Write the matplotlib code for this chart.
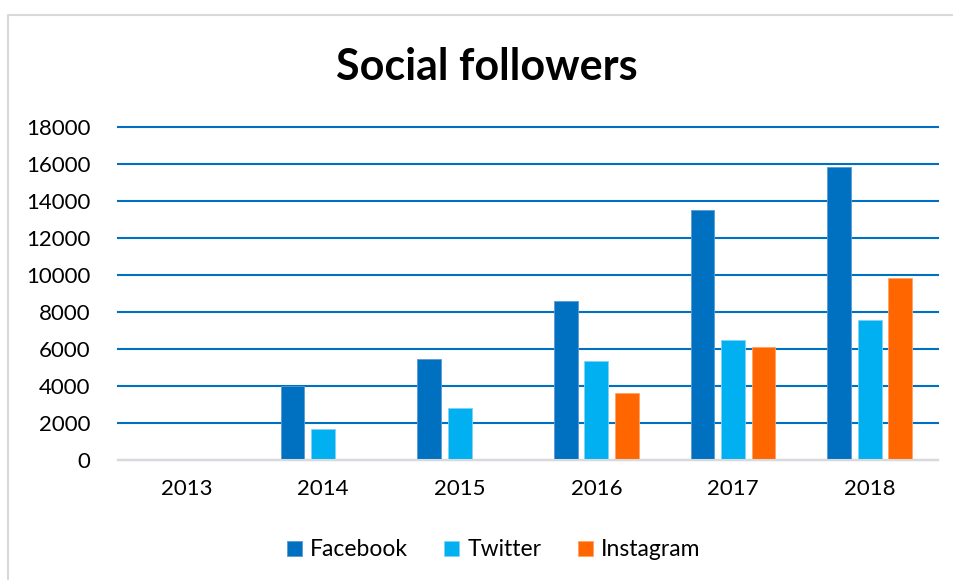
import numpy as np
import matplotlib.pyplot as plt
from matplotlib.lines import Line2D

plt.rcParams['font.family'] = ['Lato', 'DejaVu Sans']

# dati
years = ['2013', '2014', '2015', '2016', '2017', '2018']
facebook = [0, 4000, 5450, 8600, 13500, 15850]
twitter = [0, 1650, 2800, 5350, 6500, 7550]
instagram = [0, 0, 0, 3600, 6100, 9850]
yticks = [0, 2000, 4000, 6000, 8000, 10000, 12000, 14000, 16000, 18000]

fig = plt.figure(figsize=(9.54, 5.8), dpi=100)
# bordo grigio del riquadro (solo sopra e a sinistra)
fig.lines.append(Line2D([8 / 954, 8 / 954, 1], [0, 1 - 14.5 / 580, 1 - 14.5 / 580],
                        transform=fig.transFigure, color='#d9d9d9', linewidth=1.5))
ax = fig.add_axes([118 / 954, 1 - 460 / 580, 820 / 954, 333 / 580])

x = np.arange(len(years))
w = 0.175
d = 0.223
ax.bar(x - d, facebook, w, color='#0070C0', label='Facebook', zorder=3,
       edgecolor='#5b9bd5', linewidth=0.6)
ax.bar(x, twitter, w, color='#00B0F0', label='Twitter', zorder=3,
       edgecolor='#7fd3f5', linewidth=0.6)
ax.bar(x + d, instagram, w, color='#FF6600', label='Instagram', zorder=3,
       edgecolor='#ffa366', linewidth=0.6)

ax.set_xlim(-0.5, len(years) - 0.5)
ax.set_ylim(0, 18000)
ax.set_yticks(yticks)
ax.set_xticks(x)
ax.set_xticklabels(years)
ax.yaxis.grid(True, color='#0070C0', linewidth=1.5, zorder=0)
for gl in ax.get_ygridlines():
    gl.set_clip_on(False)
ax.set_axisbelow(True)
for s in ['top', 'right', 'left']:
    ax.spines[s].set_visible(False)
ax.spines['bottom'].set_color('#d9d9d9')
ax.spines['bottom'].set_linewidth(1.5)
ax.spines['bottom'].set_zorder(4)
ax.tick_params(axis='both', length=0, labelsize=16, colors='#000000')
ax.tick_params(axis='x', pad=14)
ax.tick_params(axis='y', pad=20)

fig.text(487 / 954, 1 - 67 / 580, 'Social followers', ha='center', va='center',
         fontsize=31, fontweight='bold')

ax.legend(loc='center', bbox_to_anchor=(0.458, -0.27), ncol=3, frameon=False,
          fontsize=16.5, handlelength=0.65, handleheight=0.65, handletextpad=0.35,
          columnspacing=1.6)

fig.savefig('out.png', dpi=100)
